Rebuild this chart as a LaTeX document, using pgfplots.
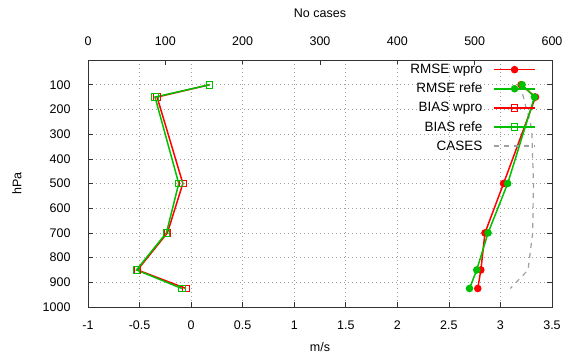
\documentclass[border=0pt]{standalone}
\usepackage{pgfplots}
\pgfplotsset{compat=1.18}
\usepackage{fontspec}
\setmainfont{Liberation Sans}
\definecolor{gpred}{RGB}{255,0,0}
\definecolor{gpgreen}{RGB}{0,192,0}
\definecolor{gpgray}{RGB}{160,160,160}
\begin{document}
\begin{tikzpicture}[font=\fontsize{12.5}{15}\selectfont]
\pgfplotsset{every axis/.append style={
  scale only axis, width=464pt, height=247pt,
  ymin=0, ymax=1000, y dir=reverse,
  /pgf/number format/assume math mode=true,
  /pgf/number format/set thousands separator={},
  tick align=inside, major tick length=5pt,
  tick style={black!80, line width=0.6pt},
  axis line style={black!80, line width=0.8pt},
}}
% cases axis (top)
\begin{axis}[name=top,
  xmin=0, xmax=600, xtick={0,100,...,600},
  xtick pos=right, xticklabel pos=right, ytick=\empty,
  xticklabel style={anchor=center, yshift=19pt},
  xlabel={No cases},
  every axis x label/.style={at={(axis description cs:0.5,1)}, anchor=center, yshift=47pt},
]
\addplot[gpgray, line width=1.2pt, dash pattern=on 5pt off 5pt] coordinates {
(558,100) (563,150) (567,200) (572,250) (574,300) (575,400) (576,500) (575,700) (569,850) (546,925)};
\end{axis}
\begin{axis}[name=ax,
  xmin=-1, xmax=3.5, xtick={-1,-0.5,...,3.5},
  ytick={100,200,...,1000},
  xtick pos=left, ytick pos=both, yticklabel pos=left,
  grid=major, grid style={gpgray, line width=0.6pt, dash pattern=on 1pt off 3pt},
  xticklabel style={anchor=center, yshift=-18pt},
  yticklabel style={anchor=east, xshift=-14pt},
  xlabel={m/s}, ylabel={hPa},
  every axis x label/.style={at={(axis description cs:0.5,0)}, anchor=center, yshift=-40pt},
  every axis y label/.style={at={(axis description cs:0,0.5)}, anchor=center, rotate=90, yshift=71pt},
  legend cell align=right, legend plot pos=right,
  legend style={draw=none, fill=none, at={(axis description cs:1,1)}, anchor=north east,
    xshift=-13pt, yshift=0pt, row sep=4pt, font=\fontsize{13.5}{16}\selectfont,
    /tikz/every odd column/.append style={column sep=9pt}},
  legend image code/.code={\draw[mark repeat=2,mark phase=2,#1] plot coordinates {(0cm,0cm) (0.72cm,0cm) (1.44cm,0cm)};},
]
\addplot[gpred, line width=1.5pt, mark=*, mark size=3pt, mark options={solid}] coordinates {
(3.20,100) (3.34,150) (3.03,500) (2.85,700) (2.81,850) (2.78,925)};
\addlegendentry{RMSE wpro}
\addplot[gpgreen, line width=1.5pt, mark=*, mark size=3pt, mark options={solid}] coordinates {
(3.21,100) (3.33,150) (3.07,500) (2.88,700) (2.77,850) (2.70,925)};
\addlegendentry{RMSE refe}
\addplot[gpred, line width=1.5pt, mark=square, mark size=3.3pt, mark options={solid, line width=1pt}] coordinates {
(0.18,100) (-0.33,150) (-0.08,500) (-0.23,700) (-0.52,850) (-0.05,925)};
\addlegendentry{BIAS wpro}
\addplot[gpgreen, line width=1.5pt, mark=square, mark size=3.3pt, mark options={solid, line width=1pt}] coordinates {
(0.18,100) (-0.35,150) (-0.12,500) (-0.24,700) (-0.53,850) (-0.09,925)};
\addlegendentry{BIAS refe}
\addlegendimage{gpgray, line width=1.2pt, dash pattern=on 5pt off 5pt}
\addlegendentry{CASES}
\end{axis}
\pgfresetboundingbox
\useasboundingbox ([xshift=-88pt,yshift=-51pt]ax.south west) rectangle ([xshift=10pt,yshift=60pt]ax.north east);
\end{tikzpicture}
\end{document}
